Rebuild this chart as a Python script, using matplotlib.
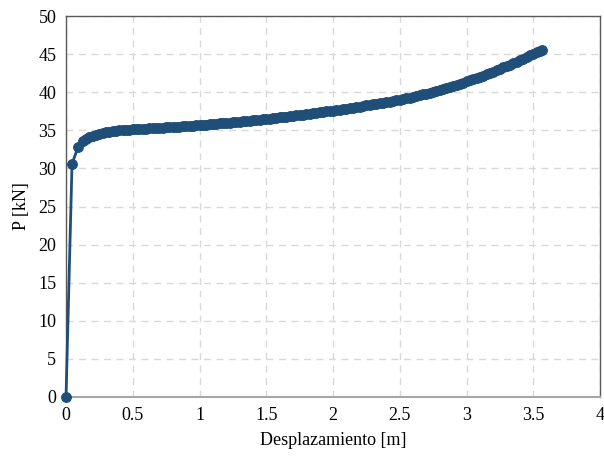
import matplotlib
matplotlib.use("Agg")
import matplotlib.pyplot as plt

desplazamiento = [
    0, 0.045, 0.09, 0.125, 0.15, 0.175, 0.2, 0.225, 0.25, 0.275, 0.3, 0.325, 0.35, 0.375, 0.4,
    0.425, 0.45, 0.475, 0.5, 0.525, 0.55, 0.575, 0.6, 0.625, 0.65, 0.675, 0.7,
    0.725, 0.75, 0.775, 0.8, 0.825, 0.85, 0.875, 0.9, 0.925, 0.95, 0.975, 1.0,
    1.025, 1.05, 1.075, 1.1, 1.125, 1.15, 1.175, 1.2, 1.225, 1.25, 1.275, 1.3,
    1.325, 1.35, 1.375, 1.4, 1.425, 1.45, 1.475, 1.5, 1.525, 1.55, 1.575, 1.6,
    1.625, 1.65, 1.675, 1.7, 1.725, 1.75, 1.775, 1.8, 1.825, 1.85, 1.875, 1.9,
    1.925, 1.95, 1.975, 2.0, 2.025, 2.05, 2.075, 2.1, 2.125, 2.15, 2.175, 2.2,
    2.225, 2.25, 2.275, 2.3, 2.325, 2.35, 2.375, 2.4, 2.425, 2.45, 2.475, 2.5,
    2.525, 2.55, 2.575, 2.6, 2.625, 2.65, 2.675, 2.7, 2.725, 2.75, 2.775, 2.8,
    2.825, 2.85, 2.875, 2.9, 2.925, 2.95, 2.975, 3.0, 3.025, 3.05, 3.075, 3.1,
    3.125, 3.15, 3.175, 3.2, 3.225, 3.25, 3.275, 3.3, 3.325, 3.35, 3.375, 3.4,
    3.425, 3.45, 3.475, 3.5, 3.525, 3.55, 3.565]
carga = [
    0, 30.6, 32.8, 33.55, 33.9, 34.12, 34.3, 34.45, 34.58, 34.68, 34.77, 34.84, 34.9, 34.95, 35.0,
    35.03, 35.06, 35.08, 35.11, 35.14, 35.17, 35.19, 35.22, 35.25, 35.28, 35.3, 35.33,
    35.36, 35.39, 35.41, 35.44, 35.47, 35.5, 35.52, 35.55, 35.58, 35.61, 35.65, 35.68,
    35.72, 35.76, 35.79, 35.83, 35.87, 35.9, 35.94, 35.98, 36.02, 36.06, 36.1, 36.14,
    36.18, 36.22, 36.27, 36.31, 36.36, 36.4, 36.45, 36.5, 36.55, 36.6, 36.65, 36.7,
    36.75, 36.8, 36.86, 36.91, 36.96, 37.02, 37.07, 37.13, 37.19, 37.24, 37.3, 37.36,
    37.42, 37.48, 37.54, 37.6, 37.66, 37.72, 37.79, 37.85, 37.92, 37.98, 38.05, 38.12,
    38.19, 38.26, 38.33, 38.4, 38.47, 38.55, 38.62, 38.7, 38.78, 38.86, 38.94, 39.03,
    39.11, 39.2, 39.3, 39.4, 39.5, 39.6, 39.71, 39.82, 39.93, 40.05, 40.17, 40.3,
    40.43, 40.56, 40.69, 40.83, 40.97, 41.11, 41.26, 41.41, 41.56, 41.71, 41.87, 42.03,
    42.19, 42.36, 42.53, 42.71, 42.89, 43.07, 43.25, 43.44, 43.63, 43.82, 44.02, 44.22,
    44.42, 44.63, 44.84, 45.06, 45.25, 45.44, 45.55]

x_ticks = [0, 0.5, 1, 1.5, 2, 2.5, 3, 3.5, 4]
x_tick_labels = ["0", "0.5", "1", "1.5", "2", "2.5", "3", "3.5", "4"]
y_ticks = [0, 5, 10, 15, 20, 25, 30, 35, 40, 45, 50]

plt.rcParams['font.family'] = ['Liberation Serif', 'DejaVu Serif']

fig = plt.figure(figsize=(6.04, 4.58), dpi=100)
ax = fig.add_axes([0.1093, 0.1332, 0.8841, 0.8318])

ax.plot(desplazamiento, carga, color='#1F4E79', linewidth=2.0, marker='o',
        markersize=7.0, markerfacecolor='#1F4E79', markeredgecolor='#1F4E79',
        markeredgewidth=0.8, zorder=3, clip_on=False)

ax.set_xlim(0, 4)
ax.set_ylim(0, 50)
ax.set_xticks(x_ticks)
ax.set_xticklabels(x_tick_labels)
ax.set_yticks(y_ticks)
ax.tick_params(length=0, labelsize=13, pad=7, colors='black')
ax.grid(True, color='#D9D9D9', linestyle=(0, (5, 4)), linewidth=1.0, zorder=0)
ax.set_axisbelow(True)

for s in ['left', 'top', 'right']:
    ax.spines[s].set_color('#595959')
    ax.spines[s].set_linewidth(1.0)
ax.spines['bottom'].set_color('#A6A6A6')
ax.spines['bottom'].set_linewidth(1.5)

ax.set_xlabel('Desplazamiento [m]', fontsize=13, labelpad=6)
ax.set_ylabel('P [kN]', fontsize=13, labelpad=6)

fig.savefig('out.png', dpi=100)
